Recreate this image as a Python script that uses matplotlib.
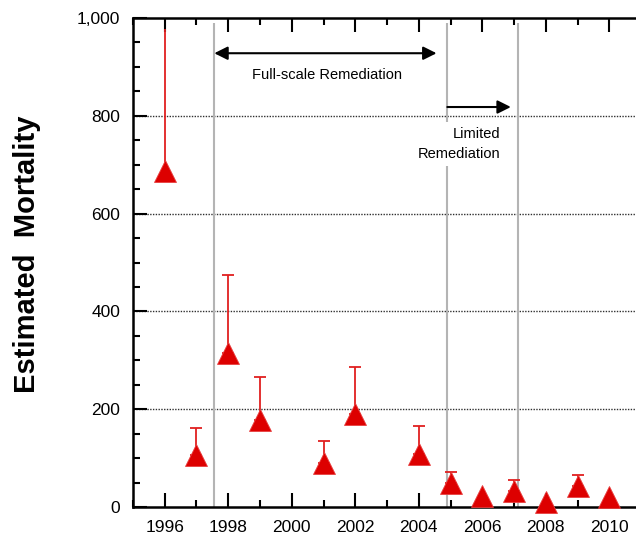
import numpy as np
import matplotlib
matplotlib.use("Agg")
import matplotlib.pyplot as plt
from matplotlib.ticker import MultipleLocator, FuncFormatter

# 估计死亡数（三角形）及误差上限
years = [1996, 1997, 1998, 1999, 2001, 2002, 2004, 2005, 2006, 2007, 2008, 2009, 2010]
mortality = [687, 106, 315, 178, 90, 190, 108, 49, 22, 33, 10, 43, 20]
upper = [978, 162, 474, 266, 135, 287, 165, 72, 22, 55, 10, 65, 20]
capped = [False, True, True, True, True, True, True, True, False, True, False, True, False]

# 修复阶段分界线
phase_lines = [1997.56, 2004.9, 2007.13]
full_arrow = (1997.56, 2004.56, 928)
limited_arrow = (2004.9, 2006.9, 818)

plt.rcParams['font.family'] = ['Liberation Sans', 'DejaVu Sans']

fig = plt.figure(figsize=(6.36, 5.38), dpi=100)
ax = fig.add_axes([0.2091, 0.0576, 0.7988, 0.9089])

red = '#dd0000'
yrs = np.array(years)
val = np.array(mortality)
up = np.array(upper)
cap = np.array(capped)

# 误差线（仅上方）
for mask, cs in [(cap, 4), (~cap, 0)]:
    ax.errorbar(yrs[mask], val[mask], yerr=[np.zeros(mask.sum()), up[mask] - val[mask]],
                fmt='none', ecolor='#e02020', elinewidth=1.3, capsize=cs, capthick=1.3, zorder=3)
ax.plot(yrs, val, linestyle='none', marker='^', markersize=16,
        markerfacecolor=red, markeredgecolor='#e84040', markeredgewidth=0.6,
        zorder=4, clip_on=False)

# 阶段分界线与箭头
ax.vlines(phase_lines, 0, 990, colors='#b4b4b4', linewidth=1.5, zorder=1)
ax.annotate('', xy=(full_arrow[0], full_arrow[2]), xytext=(full_arrow[1], full_arrow[2]),
            arrowprops=dict(arrowstyle='<|-|>', color='black', lw=1.5,
                            mutation_scale=20, shrinkA=0, shrinkB=0))
ax.annotate('', xy=(limited_arrow[1], limited_arrow[2]), xytext=(limited_arrow[0], limited_arrow[2]),
            arrowprops=dict(arrowstyle='-|>', color='black', lw=1.5,
                            mutation_scale=20, shrinkA=0, shrinkB=0))
ax.text(2001.1, 883, 'Full-scale Remediation', ha='center', va='center', fontsize=10.5)
ax.text(2006.56, 742, 'Limited\nRemediation', ha='right', va='center', fontsize=10.5,
        multialignment='right', linespacing=1.5, zorder=3,
        bbox=dict(facecolor='white', edgecolor='none', pad=4))

# 网格
for g in [200, 400, 600, 800]:
    ax.axhline(g, color='#303030', linestyle=(0, (1, 1)), linewidth=1.0, zorder=0)

ax.set_xlim(1995, 2011)
ax.set_ylim(0, 1000)
ax.xaxis.set_major_locator(MultipleLocator(2))
ax.xaxis.set_minor_locator(MultipleLocator(1))
ax.yaxis.set_major_locator(MultipleLocator(200))
ax.yaxis.set_minor_locator(MultipleLocator(50))
ax.yaxis.set_major_formatter(FuncFormatter(lambda v, p: f'{int(v):,}'))
ax.tick_params(which='both', direction='in', top=True, right=False, width=1.5, labelsize=12.5)
ax.tick_params(which='major', length=10, pad=9)
ax.tick_params(which='minor', length=5)
for s in ax.spines.values():
    s.set_linewidth(1.8)

fig.text(0.042, 0.528, 'Estimated  Mortality', rotation=90, ha='center', va='center',
         fontsize=21, fontweight='bold')

fig.savefig('out.png', dpi=100)
